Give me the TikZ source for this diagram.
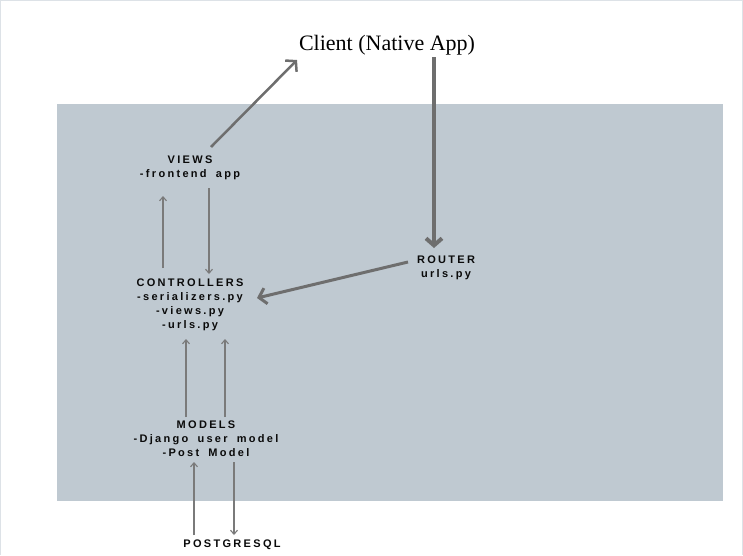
\documentclass[tikz,border=0pt]{standalone}
\usepackage{fontspec}
\usetikzlibrary{arrows.meta}
\newfontfamily\lblfont[LetterSpace=21,WordSpace=1.7,BoldFont={Liberation Sans Bold}]{Liberation Sans}
\newfontfamily\clientfont{Liberation Serif}
\definecolor{panel}{HTML}{BFC9D1}
\definecolor{arrowgray}{HTML}{6E6E6E}
\definecolor{thingray}{HTML}{7A7A7A}
\definecolor{framegray}{HTML}{DDE2E7}
\definecolor{ink}{HTML}{0A0A0A}
\tikzset{
  lbl/.style={font=\lblfont\bfseries\fontsize{11}{14}\selectfont, align=center, inner sep=0pt, text=ink, anchor=base},
  thickarrow/.style={draw=arrowgray, line width=#1, -{Straight Barb[length=7pt,width=16pt,line width=#1]}},
  thinarrow/.style={draw=thingray, line width=1.3pt, -{Straight Barb[length=4pt,width=7pt,line width=1.1pt]}}
}
\begin{document}
\begin{tikzpicture}[x=1pt,y=-1pt]
\useasboundingbox (0,0) rectangle (743,555);
\fill[white] (0,0) rectangle (743,555);
\draw[framegray, line width=2pt] (0,555) -- (0,0) -- (743,0) -- (743,555);
\fill[panel] (57,104) rectangle (723,501);

% multi-line labels are placed by the baseline of their last line
\node[font=\clientfont\fontsize{22}{24}\selectfont, inner sep=0pt, anchor=base] (client) at (387,50) {Client (Native App)};
\node[lbl] (views) at (190,177) {VIEWS\\-frontend app};
\node[lbl] (ctrl) at (190,328) {CONTROLLERS\\-serializers.py\\-views.py\\-urls.py};
\node[lbl] (router) at (446,277) {ROUTER\\urls.py};
\node[lbl] (models) at (206,456) {MODELS\\-Django user model\\-Post Model};
\node[lbl] (pg) at (232,547) {POSTGRESQL};

% connector end points
\coordinate (vOut) at (211,147);
\coordinate (cIn) at (297,60);
\coordinate (clOut) at (434,57);
\coordinate (rIn) at (434,248);
\coordinate (rOut) at (408,262);
\coordinate (ctIn) at (257,298);
\coordinate (ctUpA) at (163,268);
\coordinate (vInA) at (163,196);
\coordinate (vOutB) at (209,188);
\coordinate (ctInB) at (209,274);
\coordinate (mUpA) at (186,417);
\coordinate (ctInC) at (186,339);
\coordinate (mUpB) at (225,417);
\coordinate (ctInD) at (225,339);
\coordinate (pgUp) at (194,535);
\coordinate (mIn) at (194,462);
\coordinate (mDown) at (234,462);
\coordinate (pgIn) at (234,535);

\draw[thickarrow=2.5pt] (vOut) -- (cIn);
\draw[thickarrow=4pt] (clOut) -- (rIn);
\draw[thickarrow=3pt] (rOut) -- (ctIn);
\draw[thinarrow] (ctUpA) -- (vInA);
\draw[thinarrow] (vOutB) -- (ctInB);
\draw[thinarrow] (mUpA) -- (ctInC);
\draw[thinarrow] (mUpB) -- (ctInD);
\draw[thinarrow] (pgUp) -- (mIn);
\draw[thinarrow] (mDown) -- (pgIn);
\end{tikzpicture}
\end{document}
